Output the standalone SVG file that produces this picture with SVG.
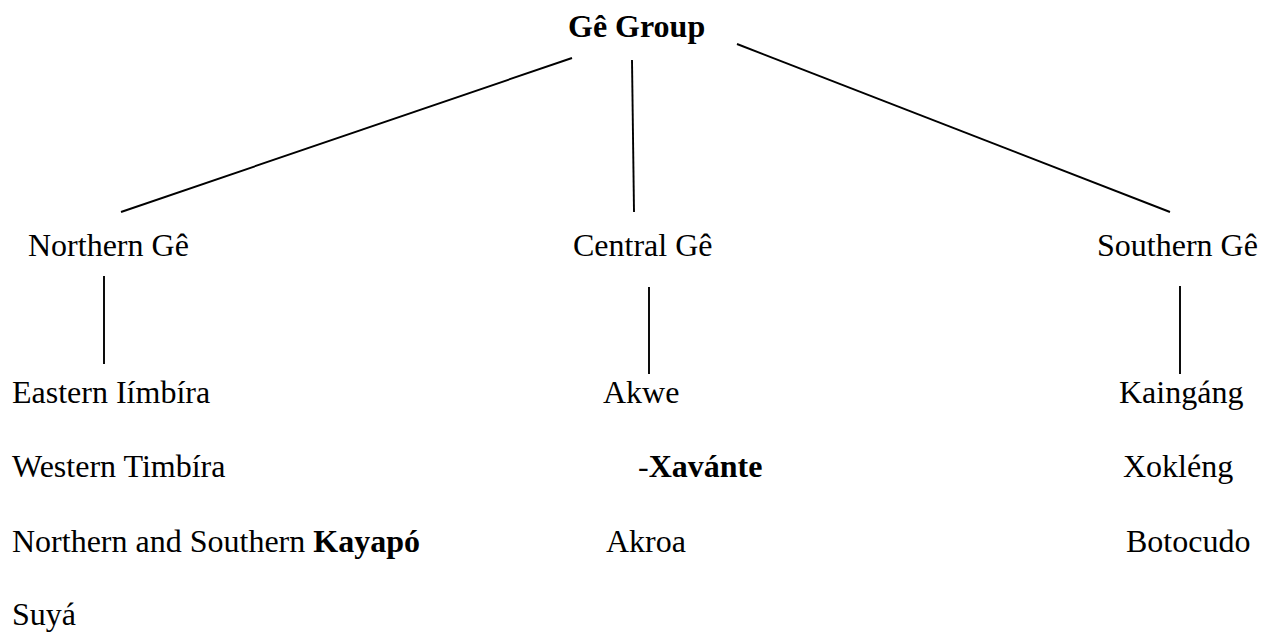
<svg xmlns="http://www.w3.org/2000/svg" width="1270" height="633" viewBox="0 0 1270 633">
  <style>
    text { font-family: "Liberation Serif", "Times New Roman", serif; font-size: 32px; fill: #000; }
    .b { font-weight: bold; }
    .edge { stroke: #000; stroke-width: 1.9; fill: none; }
  </style>
  <rect width="1270" height="633" fill="#fff"/>

  <!-- connectors -->
  <g id="connectors">
    <line class="edge" x1="572" y1="58" x2="121" y2="212"/>
    <line class="edge" x1="632" y1="60" x2="634" y2="212"/>
    <line class="edge" x1="737" y1="44" x2="1170" y2="212"/>
    <line class="edge" x1="104" y1="276" x2="104" y2="364"/>
    <line class="edge" x1="649" y1="287" x2="649" y2="374"/>
    <line class="edge" x1="1180" y1="286" x2="1180" y2="374"/>
  </g>

  <!-- root -->
  <g id="ge-group">
    <text x="568" y="37" class="b">Gê Group</text>
  </g>

  <!-- branches -->
  <g id="northern-ge">
    <text x="28" y="256">Northern Gê</text>
  </g>
  <g id="central-ge">
    <text x="573" y="256">Central Gê</text>
  </g>
  <g id="southern-ge">
    <text x="1097" y="256">Southern Gê</text>
  </g>

  <!-- Northern Gê members -->
  <g id="northern-members">
    <text x="12" y="403">Eastern Iímbíra</text>
    <text x="12" y="477">Western Timbíra</text>
    <text x="12" y="552">Northern and Southern <tspan class="b">Kayapó</tspan></text>
    <text x="12" y="625">Suyá</text>
  </g>

  <!-- Central Gê members -->
  <g id="central-members">
    <text x="603" y="403">Akwe</text>
    <text x="638" y="477">-<tspan class="b">Xavánte</tspan></text>
    <text x="606" y="552">Akroa</text>
  </g>

  <!-- Southern Gê members -->
  <g id="southern-members">
    <text x="1119" y="403">Kaingáng</text>
    <text x="1123" y="477">Xokléng</text>
    <text x="1126" y="552">Botocudo</text>
  </g>
</svg>
